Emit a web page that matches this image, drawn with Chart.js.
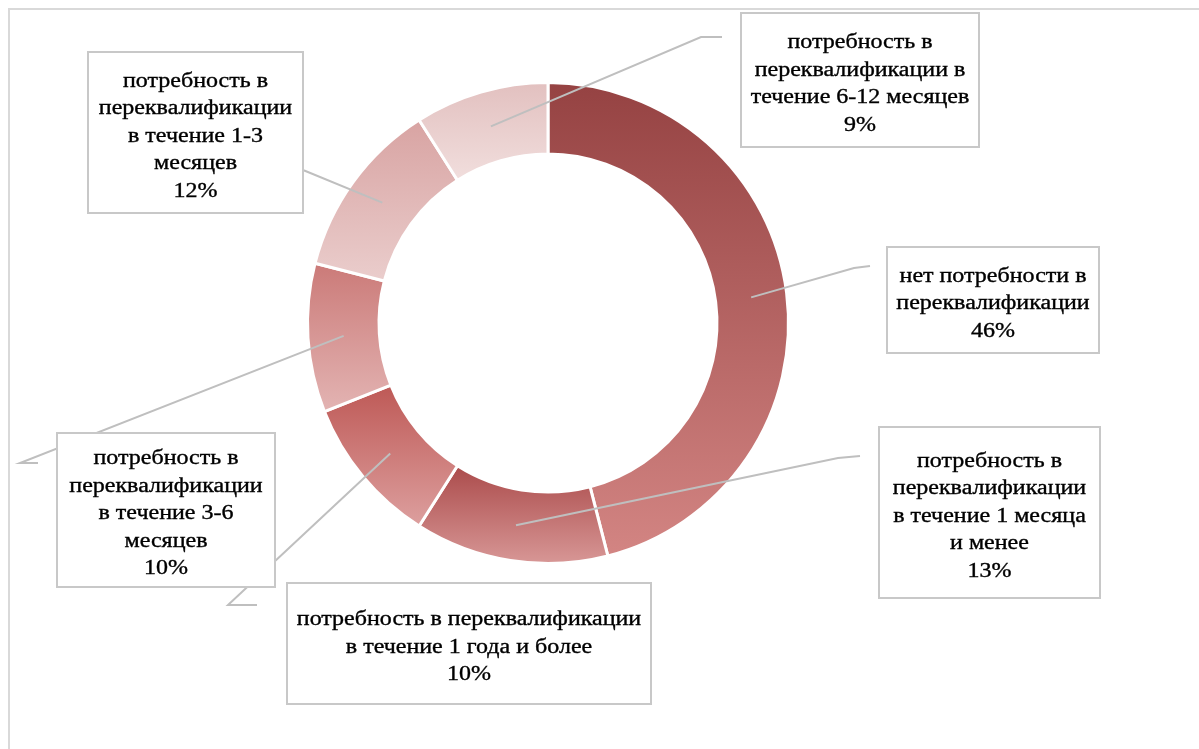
<!DOCTYPE html>
<html>
<head>
<meta charset="utf-8">
<script src="https://cdn.jsdelivr.net/npm/chart.js@4"></script>
<style>
  html, body { margin: 0; padding: 0; background: #fff; }
</style>
</head>
<body>
<canvas id="needChart" width="1199" height="749"></canvas>
<script>
// categories, clockwise from 12 o'clock
const categories = [
    "нет потребности в переквалификации",
    "потребность в переквалификации в течение 1 месяца и менее",
    "потребность в переквалификации в течение 1 года и более",
    "потребность в переквалификации в течение 3-6 месяцев",
    "потребность в переквалификации в течение 1-3 месяцев",
    "потребность в переквалификации в течение 6-12 месяцев"
];
const shares = [46, 13, 10, 10, 12, 9];

// how each label is broken into lines in its box
const labelLines = [
    ["нет потребности в", "переквалификации"],
    ["потребность в", "переквалификации", "в течение 1 месяца", "и менее"],
    ["потребность в переквалификации", "в течение 1 года и более"],
    ["потребность в", "переквалификации", "в течение 3-6", "месяцев"],
    ["потребность в", "переквалификации", "в течение 1-3", "месяцев"],
    ["потребность в", "переквалификации в", "течение 6-12 месяцев"]
];

// vertical gradient per slice (top -> bottom)
const topColors = ["#954242", "#AB4B4B", "#BE5956", "#CB7A78", "#D8A3A2", "#E2C0BF"];
const bottomColors = ["#D38583", "#D89897", "#DDA09F", "#E3B4B3", "#EACDCC", "#F1DEDD"];

// label boxes [x, y, w, h] and leader elbow / end points
const boxes = [
    [887, 247, 212, 106],
    [879, 427, 221, 171],
    [287, 583, 364, 121],
    [57, 433, 218, 154],
    [88, 52, 215, 161],
    [741, 13, 238, 134]
];
const leaders = [
    [[854, 268], [870, 266]],
    [[838, 458], [860, 456]],
    [[228, 605], [257, 605]],
    [[20, 463], [38, 463]],
    [[303, 170], [303, 133]],
    [[701, 37], [722, 37]]
];

function sliceGradient(c) {
    const chart = c.chart;
    const area = chart.chartArea;
    if (!area) return topColors[c.dataIndex];
    const cy = (area.top + area.bottom) / 2;
    const outer = Math.min(area.width, area.height) / 2;
    const inner = 169;
    const total = shares.reduce((a, b) => a + b, 0);
    let start = -Math.PI / 2;
    for (let k = 0; k < c.dataIndex; k++) start += shares[k] / total * Math.PI * 2;
    const end = start + shares[c.dataIndex] / total * Math.PI * 2;
    let minY = Infinity, maxY = -Infinity;
    for (let s = 0; s <= 60; s++) {
        const a = start + (end - start) * s / 60;
        [inner, outer].forEach(r => {
            const y = cy + r * Math.sin(a);
            minY = Math.min(minY, y);
            maxY = Math.max(maxY, y);
        });
    }
    const g = chart.ctx.createLinearGradient(0, minY, 0, maxY);
    g.addColorStop(0, topColors[c.dataIndex]);
    g.addColorStop(1, bottomColors[c.dataIndex]);
    return g;
}

const framePlugin = {
    id: "frame",
    beforeDraw(chart) {
        const ctx = chart.ctx;
        ctx.save();
        ctx.fillStyle = "#fff";
        ctx.fillRect(0, 0, chart.width, chart.height);
        ctx.strokeStyle = "#D9D9D9";
        ctx.lineWidth = 2;
        ctx.beginPath();
        ctx.moveTo(9, chart.height + 2);
        ctx.lineTo(9, 9);
        ctx.lineTo(chart.width + 2, 9);
        ctx.stroke();
        ctx.restore();
    }
};

const labelPlugin = {
    id: "calloutLabels",
    afterDraw(chart) {
        const ctx = chart.ctx;
        const arcs = chart.getDatasetMeta(0).data;
        ctx.save();
        arcs.forEach((arc, i) => {
            const p = arc.tooltipPosition();
            const [elbow, end] = leaders[i];
            ctx.strokeStyle = "#BFBFBF";
            ctx.lineWidth = 2;
            ctx.beginPath();
            ctx.moveTo(p.x, p.y);
            ctx.lineTo(elbow[0], elbow[1]);
            ctx.lineTo(end[0], end[1]);
            ctx.stroke();
        });
        arcs.forEach((arc, i) => {
            const [x, y, w, h] = boxes[i];
            ctx.fillStyle = "#fff";
            ctx.fillRect(x, y, w, h);
            ctx.strokeStyle = "#C8C8C8";
            ctx.lineWidth = 2;
            ctx.strokeRect(x, y, w, h);
            const lines = labelLines[i].concat([shares[i] + "%"]);
            const lh = 27.5;
            const cy = y + h / 2 + 4 - (lines.length - 1) * lh / 2;
            // the source text is a little stretched sideways
            ctx.save();
            ctx.translate(x + w / 2, 0);
            ctx.scale(1.2, 1);
            ctx.fillStyle = "#000";
            ctx.strokeStyle = "#000";
            ctx.lineWidth = 0.35;
            ctx.font = "20px 'Liberation Serif', 'Times New Roman', serif";
            ctx.textAlign = "center";
            ctx.textBaseline = "middle";
            lines.forEach((t, k) => {
                ctx.fillText(t, 0, cy + k * lh);
                ctx.strokeText(t, 0, cy + k * lh);
            });
            ctx.restore();
        });
        ctx.restore();
    }
};

new Chart(document.getElementById("needChart").getContext("2d"), {
    type: "doughnut",
    data: {
        labels: categories,
        datasets: [{
            data: shares,
            backgroundColor: sliceGradient,
            borderColor: "#fff",
            borderWidth: 3
        }]
    },
    options: {
        responsive: false,
        animation: false,
        cutout: 169,
        layout: { padding: { top: 81, bottom: 184, left: 200, right: 303 } },
        plugins: {
            legend: { display: false },
            tooltip: { enabled: false }
        }
    },
    plugins: [framePlugin, labelPlugin]
});
</script>
</body>
</html>
